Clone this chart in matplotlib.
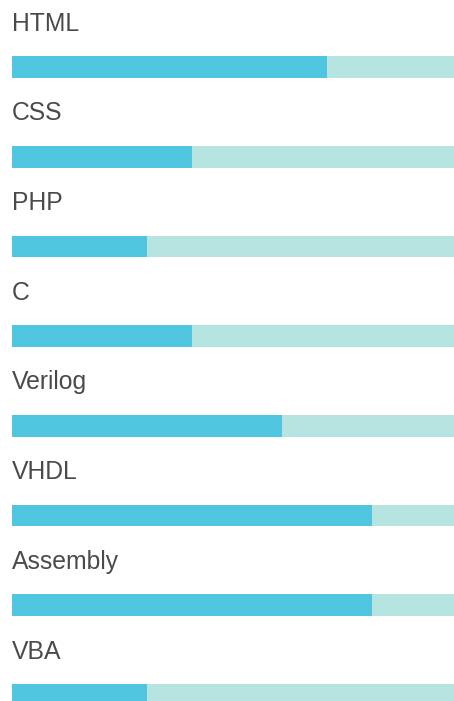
import matplotlib.pyplot as plt

skills = ["HTML", "CSS", "PHP", "C", "Verilog", "VHDL", "Assembly", "VBA"]
levels = [70, 40, 30, 40, 60, 80, 80, 30]

fill_color = "#4fc5e0"
track_color = "#b5e4e1"
text_color = "#4a4a4a"

plt.rcParams['font.family'] = ['Liberation Sans', 'DejaVu Sans']

W, H = 454, 701
fig = plt.figure(figsize=(W / 100, H / 100), dpi=100)
# the track is 450px wide starting at x=12, and runs a little past the right edge
ax = fig.add_axes([12 / W, 0, 450 / W, 1])
ax.set_xlim(0, 100)
pitch = 89.7
first_center = 67
ax.set_ylim((H - first_center) / pitch, -first_center / pitch)
ax.axis('off')

rows = list(range(len(skills)))
bar_h = 21.7 / pitch
ax.barh(rows, [100] * len(rows), height=bar_h, color=track_color, linewidth=0)
ax.barh(rows, levels, height=bar_h, color=fill_color, linewidth=0)

for i, name in zip(rows, skills):
    ax.text(0, i - 36.3 / pitch, name, fontsize=17.8, color=text_color,
            ha='left', va='baseline')

fig.savefig("out.png", dpi=100)
